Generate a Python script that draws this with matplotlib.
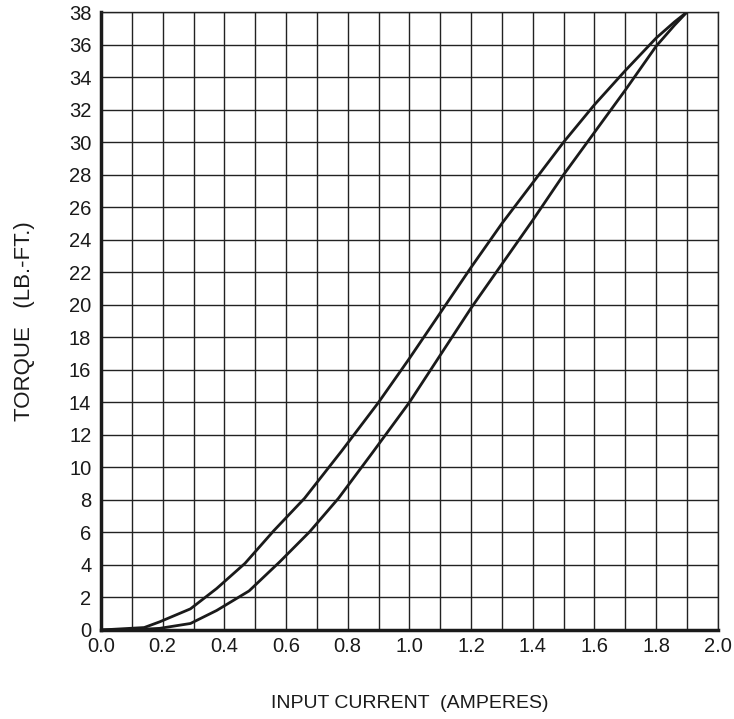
#!/usr/bin/env python3

import numpy as np
import matplotlib.pyplot as plt

# upper branch (rising torque) and lower branch, current in amperes, torque in lb-ft
upper_current = [0.0, 0.14, 0.19, 0.29, 0.375, 0.467, 0.56, 0.66, 0.78, 0.9, 1.0,
                 1.1, 1.2, 1.3, 1.4, 1.5, 1.6, 1.7, 1.8, 1.86, 1.9]
upper_torque = [0.0, 0.15, 0.5, 1.3, 2.55, 4.1, 6.1, 8.1, 11.0, 14.0, 16.7,
                19.5, 22.3, 25.0, 27.5, 30.0, 32.3, 34.4, 36.4, 37.4, 38.0]
lower_current = [0.0, 0.14, 0.19, 0.29, 0.375, 0.48, 0.58, 0.677, 0.77, 0.88, 1.0,
                 1.1, 1.2, 1.3, 1.4, 1.5, 1.6, 1.7, 1.8, 1.86, 1.9]
lower_torque = [0.0, 0.05, 0.1, 0.4, 1.2, 2.4, 4.2, 6.05, 8.1, 10.9, 14.0,
                16.9, 19.8, 22.5, 25.2, 28.0, 30.6, 33.2, 35.9, 37.2, 38.0]

x_ticks = np.round(np.arange(0, 2.01, 0.2), 1)
y_ticks = np.arange(0, 39, 2)


def main():
    plt.rcParams['font.family'] = ['Liberation Sans', 'DejaVu Sans']
    fig = plt.figure(figsize=(7.34, 7.19), dpi=100)
    ax = fig.add_axes([0.1376, 0.1238, 0.978 - 0.1376, 0.9833 - 0.1238])

    ax.plot(upper_current, upper_torque, color='#1a1a1a', lw=2.0)
    ax.plot(lower_current, lower_torque, color='#1a1a1a', lw=2.0)

    ax.set_xlim(0, 2.0)
    ax.set_ylim(0, 38)
    ax.set_xticks(np.arange(0, 2.01, 0.1), minor=True)
    ax.set_xticks(x_ticks)
    ax.set_xticklabels([f"{v:.1f}" for v in x_ticks])
    ax.set_yticks(y_ticks)
    ax.tick_params(which='both', length=0, labelsize=14.5, colors='#1a1a1a')
    ax.tick_params(axis='x', pad=5)
    ax.tick_params(axis='y', pad=7)
    ax.grid(True, which='both', color='#222222', lw=1.0)
    ax.set_axisbelow(True)

    for side in ['top', 'right']:
        ax.spines[side].set_linewidth(1.0)
        ax.spines[side].set_color('#222222')
    for side in ['left', 'bottom']:
        ax.spines[side].set_linewidth(2.5)
        ax.spines[side].set_color('#1a1a1a')

    ax.set_xlabel("INPUT CURRENT  (AMPERES)", fontsize=14, labelpad=28, color='#1a1a1a')
    ax.set_ylabel("TORQUE   (LB.-FT.)", fontsize=16, labelpad=24, color='#1a1a1a')

    fig.savefig("out.png", dpi=100)


if __name__ == "__main__":
    main()
